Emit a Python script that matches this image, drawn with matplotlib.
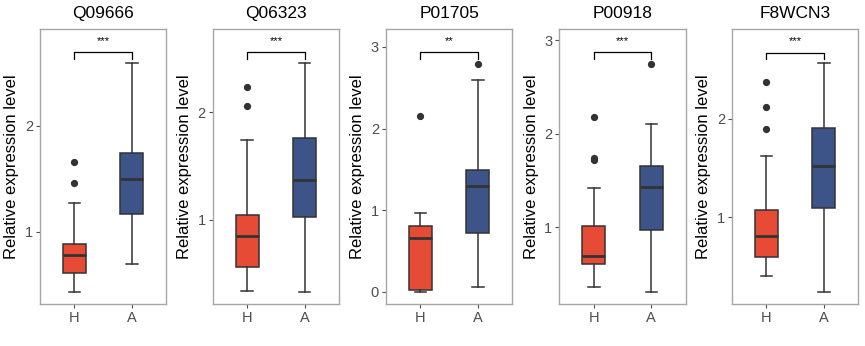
import matplotlib
matplotlib.use("Agg")
import matplotlib.pyplot as plt

plt.rcParams['font.family'] = ['Liberation Sans', 'DejaVu Sans']

proteins = ["Q09666", "Q06323", "P01705", "P00918", "F8WCN3"]
groups = ["H", "A"]

# box statistics per protein, healthy group
h_whislo = [0.437, 0.344, 0.00, 0.358, 0.408]
h_q1 = [0.61, 0.56, 0.02, 0.604, 0.598]
h_med = [0.78, 0.849, 0.66, 0.696, 0.81]
h_q3 = [0.887, 1.044, 0.81, 1.017, 1.077]
h_whishi = [1.276, 1.74, 0.96, 1.42, 1.618]
h_fliers = [[1.663, 1.46], [2.232, 2.061], [2.15], [2.175, 1.74, 1.72], [2.368, 2.118, 1.895]]

# box statistics per protein, A group
a_whislo = [0.70, 0.334, 0.053, 0.31, 0.246]
a_q1 = [1.17, 1.025, 0.72, 0.97, 1.097]
a_med = [1.497, 1.37, 1.29, 1.43, 1.52]
a_q3 = [1.745, 1.764, 1.49, 1.66, 1.90]
a_whishi = [2.59, 2.455, 2.60, 2.10, 2.56]
a_fliers = [[], [], [2.79], [2.75], []]

signif = ["***", "***", "**", "***", "***"]
bracket_y = [2.695, 2.557, 2.935, 2.87, 2.67]
y_limits = [(0.32, 2.915), (0.22, 2.773), (-0.15, 3.22), (0.18, 3.12), (0.12, 2.909)]
y_ticks = [[1, 2], [1, 2], [0, 1, 2, 3], [1, 2, 3], [1, 2]]

colors = ["#E64B35", "#3C5488"]
edge = "#333333"

fig = plt.figure(figsize=(8.65, 3.46), dpi=100)
lefts = [0.0462, 0.2459, 0.4462, 0.6466, 0.8462]

for i, name in enumerate(proteins):
    ax = fig.add_axes([lefts[i], 0.1214, 0.1462, 0.7948])
    stats = [
        dict(whislo=h_whislo[i], q1=h_q1[i], med=h_med[i], q3=h_q3[i],
             whishi=h_whishi[i], fliers=h_fliers[i], label=groups[0]),
        dict(whislo=a_whislo[i], q1=a_q1[i], med=a_med[i], q3=a_q3[i],
             whishi=a_whishi[i], fliers=a_fliers[i], label=groups[1]),
    ]
    bp = ax.bxp(stats, positions=[1, 2], widths=0.4, patch_artist=True,
                boxprops=dict(edgecolor=edge, linewidth=1.1),
                medianprops=dict(color=edge, linewidth=2.0),
                whiskerprops=dict(color=edge, linewidth=1.1),
                capprops=dict(color=edge, linewidth=1.1),
                flierprops=dict(marker='o', markerfacecolor=edge, markeredgecolor=edge,
                                markersize=4.2, linestyle='none'),
                capwidths=0.2, zorder=2)
    for patch, c in zip(bp['boxes'], colors):
        patch.set_facecolor(c)
        patch.set_zorder(1)

    # significance bracket
    yb = bracket_y[i]
    ylo, yhi = y_limits[i]
    drop = (yhi - ylo) * 0.025
    ax.plot([1, 1, 2, 2], [yb - drop, yb, yb, yb - drop], color='black', lw=0.9)
    ax.text(1.5, yb + drop * 0.9, signif[i], ha='center', va='bottom', fontsize=8)

    ax.set_xlim(0.4, 2.6)
    ax.set_ylim(ylo, yhi)
    ax.set_yticks(y_ticks[i])
    ax.set_xticks([1, 2])
    ax.set_xticklabels(groups)
    ax.tick_params(axis='both', colors='#4D4D4D', labelsize=10.5, length=3, width=0.8,
                   labelcolor='#4D4D4D', pad=2)
    for sp in ax.spines.values():
        sp.set_color('#A6A6A6')
        sp.set_linewidth(1.0)
    ax.set_title(name, fontsize=12.5, pad=8, color='black')
    ax.set_ylabel("Relative expression level", fontsize=12, labelpad=4)

fig.savefig("out.png", dpi=100)
